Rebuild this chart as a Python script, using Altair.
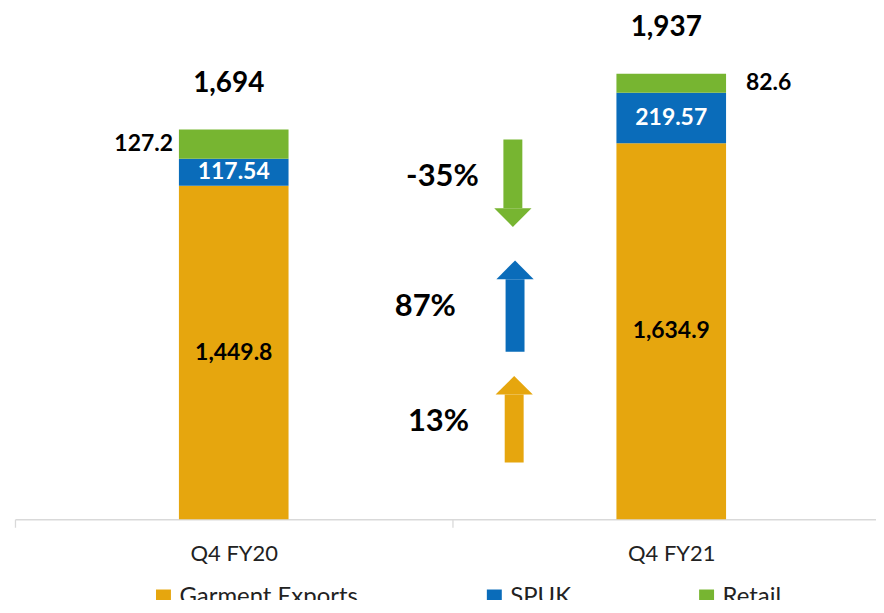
import altair as alt
import pandas as pd

periods = ["Q4 FY20", "Q4 FY21"]
segments = ["Garment Exports", "SPUK", "Retail"]
garment_exports = [1449.8, 1634.9]
spuk = [117.54, 219.57]
retail = [127.2, 82.6]
totals = [1694, 1937]
segment_colors = ["#E6A60E", "#0A6CBA", "#77B531"]
label_formats = ["{:,.1f}", "{:,.2f}", "{:,.1f}"]

change_labels = ["13%", "87%", "-35%"]
change_segments = ["Garment Exports", "SPUK", "Retail"]
change_direction = ["up", "up", "down"]
# annotation arrows: x in category-slot units, y in value units
arrow_x = [1.141, 1.143, 1.138]
arrow_shaft_start = [247, 728, 1651]
arrow_head_base = [542, 1044, 1352]
change_label_x = [0.968, 0.938, 0.977]
change_label_y = [422, 921, 1490]
visible_slots = 1.968  # the second slot runs past the right edge

FONT = "Lato"

rows = []
for i, p in enumerate(periods):
    lo = 0.0
    for k, (seg, vals) in enumerate(zip(segments, [garment_exports, spuk, retail])):
        v = vals[i]
        hi = lo + v
        rows.append(dict(period=p, pos=i + 0.5, segment=seg, lo=lo, hi=hi,
                         mid=(lo + hi) / 2, label=label_formats[k].format(v), order=k))
        lo = hi
bars_df = pd.DataFrame(rows)
totals_df = pd.DataFrame({"period": periods, "pos": [i + 0.5 for i in range(len(periods))],
                          "total": totals, "label": [f"{t:,}" for t in totals]})

up_head = "M-1,0 L1,0 L0,-1 Z"
down_head = "M-1,0 L1,0 L0,1 Z"
arrows_df = pd.DataFrame({
    "segment": change_segments,
    "label": change_labels,
    "ax": arrow_x,
    "start": arrow_shaft_start,
    "base": arrow_head_base,
    "shape": [up_head if d == "up" else down_head for d in change_direction],
    "lx": change_label_x,
    "ly": change_label_y,
})

yscale = alt.Scale(domain=[0, 2197], nice=False, zero=True, padding=0)
xq = alt.Scale(domain=[0, visible_slots], nice=False, zero=False, padding=0)
cscale = alt.Scale(domain=segments, range=segment_colors)

label_expr = " : ".join(
    f"datum.value == {i + 0.5} ? '{p}'" for i, p in enumerate(periods)
) + " : ''"
tick_values = sorted([float(i) for i in range(len(periods))] +
                     [i + 0.5 for i in range(len(periods))])

x_axis = alt.Axis(title=None, values=tick_values, labelExpr=label_expr,
                  labelFont=FONT, labelFontSize=22, labelColor="#222222",
                  domainColor="#D9D9D9", tickColor="#D9D9D9", tickSize=8,
                  tickOpacity={"condition": {"test": "datum.value % 1 == 0", "value": 1},
                               "value": 0},
                  labelPadding=16, labelAngle=0, grid=False, labelFlush=False,
                  labelOverlap=False, domainWidth=1.3, tickWidth=1.3)
legend = alt.Legend(title=None, orient="none", legendX=137, legendY=573,
                    direction="horizontal", symbolType="square", symbolSize=225,
                    symbolStrokeWidth=0, labelFont=FONT, labelFontSize=24,
                    labelColor="#222222", columnPadding=124, labelOffset=4,
                    labelLimit=0)

X = alt.X("pos:Q", scale=xq, axis=x_axis)
Y = lambda f: alt.Y(f, scale=yscale, axis=None)

base = alt.Chart(bars_df)
bars = base.mark_bar(size=110).encode(
    x=X, y=Y("lo:Q"), y2="hi:Q",
    color=alt.Color("segment:N", scale=cscale, legend=legend),
)
inside = base.transform_filter(alt.datum.segment != "Retail").mark_text(
    font=FONT, fontWeight="bold", fontSize=23, baseline="middle"
).encode(
    x=X, y=Y("mid:Q"), text="label:N",
    color=alt.condition(alt.datum.segment == "SPUK", alt.value("white"), alt.value("black")),
)
retail_left = base.transform_filter(
    (alt.datum.segment == "Retail") & (alt.datum.period == periods[0])
).mark_text(font=FONT, fontWeight="bold", fontSize=23, baseline="middle",
            align="right", dx=-61, color="black").encode(
    x=X, y=Y("mid:Q"), text="label:N",
)
retail_right = base.transform_filter(
    (alt.datum.segment == "Retail") & (alt.datum.period == periods[1])
).mark_text(font=FONT, fontWeight="bold", fontSize=23, baseline="middle",
            align="left", dx=75, color="black").encode(
    x=X, y=Y("mid:Q"), text="label:N",
)
total_text = alt.Chart(totals_df).mark_text(
    font=FONT, fontWeight="bold", fontSize=28, baseline="middle", dy=-46, dx=-5,
    color="black"
).encode(x=X, y=Y("total:Q"), text="label:N")

abase = alt.Chart(arrows_df)
shafts = abase.mark_bar(size=19).encode(
    x=alt.X("ax:Q", scale=xq, axis=x_axis),
    y=Y("start:Q"), y2="base:Q",
    color=alt.Color("segment:N", scale=cscale, legend=legend),
)
heads = abase.mark_point(filled=True, size=1400, opacity=1).encode(
    x=alt.X("ax:Q", scale=xq, axis=x_axis),
    y=Y("base:Q"),
    shape=alt.Shape("shape:N", scale=None),
    color=alt.Color("segment:N", scale=cscale, legend=legend),
)
ptext = abase.mark_text(font=FONT, fontWeight="bold", fontSize=31, baseline="middle",
                        color="black").encode(
    x=alt.X("lx:Q", scale=xq, axis=x_axis),
    y=Y("ly:Q"), text="label:N",
)

chart = alt.layer(bars, inside, retail_left, retail_right, total_text,
                  shafts, heads, ptext).properties(
    width=864, height=507,
    padding={"left": 7, "top": 5, "right": 0, "bottom": 80},
    autosize="none",
).configure_view(stroke=None)

chart.save("out.html", embed_options={"renderer": "svg", "actions": False})
